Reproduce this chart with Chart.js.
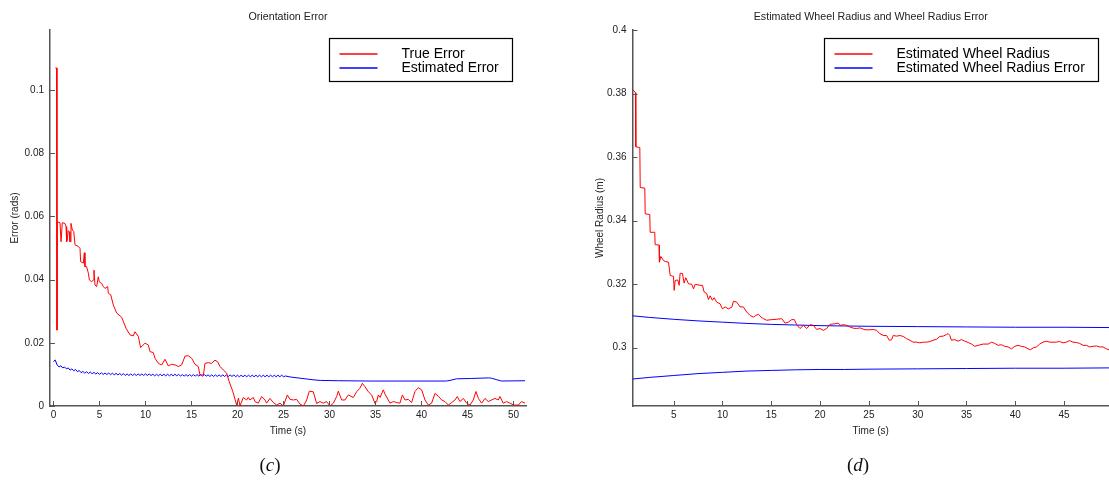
<!DOCTYPE html>
<html>
<head>
<meta charset="utf-8">
<script src="https://cdn.jsdelivr.net/npm/chart.js@4.4.1/dist/chart.umd.min.js"></script>
<style>
  html, body { margin: 0; padding: 0; background: #fff; }
  body { width: 1109px; height: 483px; overflow: hidden; position: relative; }
  canvas { position: absolute; top: 0; }
  #orientation { left: 0; }
  #radius { left: 560px; }
  .caption { position: absolute; top: 454px; width: 60px; text-align: center;
             font-family: 'Liberation Serif', 'DejaVu Serif', serif; font-size: 19px; color: #111; }
</style>
</head>
<body>
<canvas id="orientation" width="560" height="483"></canvas>
<canvas id="radius" width="549" height="483"></canvas>
<div class="caption" style="left:240px">(<i>c</i>)</div>
<div class="caption" style="left:828px">(<i>d</i>)</div>
<script>
// ---- Orientation error (rad) over time (s) ----
const trueErrT = [0.2,0.33,0.38,0.42,0.71,0.82,0.96,1.25,1.36,1.43,1.5,1.58,1.7,1.79,1.85,1.9,2.05,2.2,2.34,2.7,2.88,2.95,3.24,3.35,3.42,3.6,3.79,3.9,4.15,4.33,4.4,4.51,4.69,4.87,4.98,5.24,5.42,5.6,5.89,5.96,6.22,6.5,6.87,7.41,7.88,8.32,8.68,8.86,9.22,9.47,9.95,10.31,10.49,10.85,11.03,11.4,11.76,12.12,12.48,12.85,13.21,13.57,13.93,14.3,14.66,15.02,15.38,15.74,15.92,16.29,16.47,16.83,17.19,17.55,17.84,18.1,18.46,18.82,19.1,19.5,19.91,20.1,20.27,20.63,20.99,21.17,21.35,21.72,21.9,22.26,22.63,22.99,23.17,23.53,23.89,24.26,24.62,24.98,25.42,25.71,26.07,26.43,26.79,27.16,27.52,27.81,28.24,28.6,28.97,29.33,29.69,30.05,30.42,30.78,30.96,31.32,31.68,32.05,32.59,32.95,33.3,33.57,33.86,34.22,34.58,34.94,35.13,35.31,35.5,35.85,36.03,36.39,36.58,36.94,37.3,37.66,37.92,38.21,38.57,38.93,39.29,39.66,40.02,40.38,40.74,41.1,41.47,41.83,42.19,42.55,42.92,43.28,43.64,43.89,44.18,44.55,44.91,45.27,45.63,45.92,46.18,46.54,46.9,47.26,47.62,47.99,48.35,48.53,48.89,49.25,49.61,50.05,50.52,50.88,51.25];
const trueErrV = [0.107,0.107,0.024,0.0583,0.058,0.052,0.058,0.0578,0.0568,0.052,0.0525,0.0555,0.0552,0.052,0.052,0.0578,0.0557,0.0552,0.051,0.0505,0.0499,0.0457,0.0452,0.0485,0.0441,0.0441,0.042,0.0399,0.0393,0.0399,0.043,0.0383,0.0378,0.0409,0.0393,0.0388,0.0378,0.0372,0.0378,0.0357,0.0352,0.032,0.0294,0.0281,0.0246,0.0225,0.0222,0.0235,0.022,0.0185,0.0199,0.0193,0.0172,0.0169,0.0151,0.0135,0.013,0.0148,0.0127,0.0132,0.013,0.0125,0.013,0.0158,0.0159,0.0151,0.0132,0.0125,0.0098,0.0098,0.0135,0.0137,0.0135,0.0145,0.014,0.0125,0.0114,0.0104,0.0077,0.0045,0.0003,0.0025,0.0,0.0027,0.0019,0.0027,0.0019,0.0027,0.0014,0.0009,0.003,0.0019,0.0009,0.0024,0.0011,0.0003,0.0009,0.0,0.0035,0.0021,0.0019,0.0021,0.0006,0.0,0.0019,0.0047,0.0045,0.0008,0.0014,0.0009,0.0014,0.0,0.0009,0.003,0.0047,0.0019,0.0019,0.0035,0.0027,0.0045,0.0056,0.0072,0.0061,0.0045,0.0035,0.0008,0.0014,0.0035,0.0027,0.0051,0.0038,0.0019,0.0009,0.0014,0.0011,0.0009,0.0035,0.0019,0.0021,0.0011,0.0046,0.0058,0.0051,0.0019,0.0003,0.0009,0.004,0.0031,0.0019,0.0014,0.0003,0.0011,0.0019,0.003,0.0014,0.0024,0.0009,0.0003,0.0019,0.0046,0.0024,0.0009,0.0024,0.0014,0.0019,0.0024,0.0019,0.003,0.0009,0.0014,0.0009,0.0003,0.0003,0.0014,0.0009];
const estErrT = [0,0.18,
  0.4,0.6,0.8,1.0,1.2,1.4,1.6,1.8,2.0,2.2,2.4,2.6,2.8,3.0,3.2,3.4,3.6,3.8,4.0,4.2,4.4,4.6,4.8,5.0,
  5.2,5.4,5.6,5.8,6.0,6.2,6.4,6.6,6.8,7.0,7.2,7.4,7.6,7.8,8.0,8.2,8.4,8.6,8.8,9.0,9.2,9.4,9.6,9.8,
  10.0,10.2,10.4,10.6,10.8,11.0,11.2,11.4,11.6,11.8,12.0,12.2,12.4,12.6,12.8,13.0,13.2,13.4,13.6,13.8,
  14.0,14.2,14.4,14.6,14.8,15.0,15.2,15.4,15.6,15.8,16.0,16.2,16.4,16.6,16.8,17.0,17.2,17.4,17.6,17.8,
  18.0,18.2,18.4,18.6,18.8,19.0,19.2,19.4,19.6,19.8,20.0,20.2,20.4,20.6,20.8,21.0,21.2,21.4,21.6,21.8,
  22.0,22.2,22.4,22.6,22.8,23.0,23.2,23.4,23.6,23.8,24.0,24.2,24.4,24.6,24.8,25.0,25.2,
  25.7,26.8,28.2,29.0,31,34.4,42.7,43.1,43.8,45.3,47.3,47.6,48.2,48.7,51.25];
const estErrV = [0.014,0.0146,
  0.01295,0.01235,0.01275,0.01205,0.01235,0.01175,0.01205,0.01135,0.01175,0.01115,0.01155,0.01085,0.01125,0.01055,0.01095,0.0104,0.01085,0.0103,0.01075,0.0102,0.01065,0.0101,0.01055,0.01003,
  0.0105,0.00998,0.01045,0.00995,0.01043,0.00991,0.01039,0.00987,0.01035,0.00983,0.0103,0.00977,0.01025,0.00965,0.01015,0.00965,0.01015,0.00965,0.01015,0.00965,0.01015,0.00965,0.01015,0.00965,
  0.01015,0.00965,0.01015,0.00965,0.01005,0.00955,0.01005,0.00955,0.01005,0.00955,0.01005,0.00955,0.01005,0.00955,0.01005,0.00955,0.01005,0.00955,0.01005,0.00945,
  0.00995,0.00945,0.00995,0.00945,0.00995,0.00945,0.00995,0.00945,0.00995,0.00945,0.00995,0.00945,0.00995,0.00945,0.00985,0.00935,0.00985,0.00935,0.00985,0.00935,
  0.00985,0.00935,0.00985,0.00935,0.00985,0.00935,0.00985,0.00935,0.00985,0.00925,0.00975,0.00925,0.00975,0.00925,0.00975,0.00925,0.00975,0.00925,0.00975,0.00925,
  0.00975,0.00925,0.00975,0.00925,0.00975,0.00925,0.00975,0.00925,0.00975,0.00925,0.00975,0.00925,0.00975,0.00925,0.00975,0.00925,0.0095,
  0.0092,0.0088,0.0083,0.0081,0.008,0.0079,0.0079,0.0081,0.0086,0.0087,0.0089,0.0088,0.0083,0.0079,0.008];

// ---- Wheel radius estimate (m) and its error bounds ----
const radiusT = [0.78,1.08,1.12,1.53,1.57,2.04,2.08,2.55,2.59,3.06,3.1,3.5,3.54,3.68,3.95,4.13,4.47,4.64,4.98,5.05,5.15,5.42,5.56,5.66,5.9,6.07,6.24,6.51,6.85,7.03,7.2,7.71,7.95,8.12,8.39,8.56,8.73,8.97,9.14,9.41,9.75,9.99,10.27,10.6,10.95,11.12,11.46,11.8,12.14,12.48,12.83,13.17,13.41,13.68,13.95,14.19,14.53,15.04,15.55,16.07,16.41,16.75,17.09,17.36,17.6,17.94,18.29,18.63,18.97,19.31,19.65,19.99,20.33,20.67,21.0,21.5,21.87,22.04,22.38,22.72,23.06,23.4,23.74,24.09,24.6,25.11,25.45,25.79,26.13,26.47,26.81,27.09,27.33,27.49,27.84,28.18,28.52,28.86,29.2,29.54,29.88,30.22,30.57,30.91,31.25,31.59,31.93,32.27,32.61,32.95,33.12,33.29,33.46,33.8,34.14,34.48,34.83,35.17,35.51,35.85,36.19,36.71,37.22,37.56,37.9,38.24,38.58,38.92,39.26,39.61,39.95,40.29,40.63,40.97,41.31,41.55,41.83,42.17,42.5,42.84,43.18,43.53,43.87,44.2,44.54,44.89,45.23,45.57,45.91,46.26,46.6,46.94,47.28,47.62,47.97,48.31,48.65,48.99,49.33,49.6];
const radiusV = [0.3813,0.3803,0.3632,0.363,0.3504,0.3502,0.3421,0.3419,0.3363,0.3363,0.3324,0.3323,0.3269,0.3287,0.3274,0.3271,0.3269,0.3227,0.3224,0.318,0.3211,0.3213,0.3196,0.3234,0.3233,0.3203,0.322,0.3201,0.3199,0.3185,0.3199,0.3196,0.3196,0.3175,0.317,0.3151,0.3163,0.3149,0.3157,0.3143,0.3138,0.3122,0.3128,0.3122,0.3127,0.3146,0.3143,0.3128,0.3128,0.3112,0.3101,0.3096,0.3101,0.3105,0.3096,0.3091,0.3086,0.3088,0.3089,0.3091,0.3077,0.308,0.3088,0.3088,0.3072,0.306,0.307,0.306,0.3072,0.307,0.3057,0.306,0.3054,0.306,0.3073,0.3075,0.3077,0.307,0.3072,0.307,0.3065,0.3061,0.306,0.3062,0.3056,0.3056,0.3057,0.3054,0.3044,0.3038,0.3038,0.3023,0.3025,0.3038,0.3036,0.3038,0.3035,0.3028,0.3023,0.3017,0.3017,0.3015,0.3017,0.3017,0.3019,0.3023,0.3026,0.3035,0.3036,0.3041,0.3044,0.3038,0.3023,0.3025,0.302,0.3025,0.302,0.3016,0.3011,0.3004,0.3007,0.3011,0.3011,0.3017,0.3013,0.3007,0.3009,0.3004,0.3002,0.2996,0.3004,0.3007,0.3004,0.3002,0.2996,0.2993,0.2999,0.3002,0.3011,0.3017,0.302,0.3017,0.3017,0.3017,0.3019,0.3015,0.3017,0.3022,0.3017,0.3016,0.3013,0.3007,0.3007,0.3002,0.3004,0.3005,0.3002,0.3002,0.2996,0.2993];
const boundT = [0.78,2.5,5,7.5,10,12.5,15,17.5,20,22.5,25,30,35,40,45,49.6];
const upperV = [0.31,0.3095,0.3089,0.3084,0.308,0.3076,0.3073,0.3071,0.3069,0.3068,0.3067,0.3066,0.3065,0.3064,0.3064,0.3063];
const lowerV = [0.2901,0.2906,0.2912,0.2918,0.2922,0.2926,0.2928,0.293,0.2931,0.2931,0.2932,0.2933,0.2934,0.2935,0.2935,0.2936];

// ---- Tick values and labels ----
const timeTicksA = [0,5,10,15,20,25,30,35,40,45,50];
const timeTicksB = [5,10,15,20,25,30,35,40,45];
const errTicks = [0,0.02,0.04,0.06,0.08,0.1];
const errTickLabels = ['0','0.02','0.04','0.06','0.08','0.1'];
const radTicks = [0.3,0.32,0.34,0.36,0.38,0.4];
const radTickLabels = ['0.3','0.32','0.34','0.36','0.38','0.4'];

const RED = '#ff0000', BLUE = '#0000ff', AXIS = '#555', TEXT = '#222';
Chart.defaults.font.family = "'Liberation Sans', Arial, Helvetica, sans-serif";
Chart.defaults.color = TEXT;

const zip = (t, v) => t.map((x, i) => ({ x, y: v[i] }));

// short tick marks pointing into the plot area
const inwardTicks = {
  id: 'inwardTicks',
  afterDraw(chart) {
    const { ctx, chartArea: a, scales: { x, y } } = chart;
    ctx.save();
    ctx.strokeStyle = AXIS;
    ctx.lineWidth = 1;
    ctx.beginPath();
    x.ticks.forEach(t => {
      const p = Math.round(x.getPixelForValue(t.value)) + 0.5;
      ctx.moveTo(p, a.bottom); ctx.lineTo(p, a.bottom - 5);
    });
    y.ticks.forEach(t => {
      const p = Math.round(y.getPixelForValue(t.value)) + 0.5;
      ctx.moveTo(a.left, p); ctx.lineTo(a.left + 5, p);
    });
    ctx.stroke();
    ctx.restore();
  }
};

// boxed legend in the upper right corner of the plot area
const boxLegend = {
  id: 'boxLegend',
  afterDraw(chart, args, opts) {
    const { ctx, chartArea: a } = chart;
    const items = chart.data.datasets.filter(d => d.inLegend !== false);
    ctx.save();
    ctx.font = "14px 'Liberation Sans', Arial, sans-serif";
    const tw = Math.max(...items.map(d => ctx.measureText(d.label).width));
    const w = Math.round(72 + tw + 14), h = 43;
    const bx = Math.round(a.right - opts.right - w) + 0.5, by = Math.round(a.top + opts.top) + 0.5;
    ctx.fillStyle = '#fff';
    ctx.fillRect(bx, by, w, h);
    ctx.strokeStyle = '#000';
    ctx.lineWidth = 1.2;
    ctx.strokeRect(bx, by, w, h);
    items.forEach((d, i) => {
      const cy = Math.round(by + 15 + i * 14.5);
      ctx.beginPath();
      ctx.strokeStyle = d.borderColor;
      ctx.lineWidth = 1.6;
      ctx.moveTo(bx + 10, cy); ctx.lineTo(bx + 48, cy);
      ctx.stroke();
      ctx.fillStyle = '#000';
      ctx.textBaseline = 'middle';
      ctx.fillText(d.label, bx + 72, cy);
    });
    ctx.restore();
  }
};

function lineSet(label, data, color, inLegend) {
  return { label, data, borderColor: color, borderWidth: 1, pointRadius: 0,
           tension: 0, fill: false, inLegend };
}

function makeChart(id, cfg) {
  return new Chart(document.getElementById(id), {
    type: 'line',
    data: { datasets: cfg.datasets },
    plugins: [inwardTicks, boxLegend],
    options: {
      responsive: false,
      animation: false,
      parsing: false,
      layout: { padding: { left: 0, right: cfg.padRight, top: 0, bottom: 37 } },
      plugins: {
        legend: { display: false },
        tooltip: { enabled: false },
        title: {
          display: true, text: cfg.title, fullSize: false,
          font: { size: 10.7, weight: 'normal', lineHeight: 1.2 },
          color: TEXT, padding: { top: 11.1, bottom: 6.06 }
        },
        boxLegend: { right: cfg.legendRight, top: 8 }
      },
      scales: {
        x: {
          type: 'linear', min: cfg.xMin, max: cfg.xMax,
          afterBuildTicks: s => { s.ticks = cfg.xTicks.map(value => ({ value })); },
          afterFit: s => { s.height = 40; },
          grid: { display: false, drawTicks: false },
          border: { display: true, color: AXIS, width: 1.5 },
          ticks: { font: { size: 10 }, padding: 3, maxRotation: 0, color: TEXT,
                   callback: v => String(v) },
          title: { display: true, text: 'Time (s)', font: { size: 10 }, color: TEXT,
                   padding: { top: 0, bottom: 9 } }
        },
        y: {
          type: 'linear', min: cfg.yMin, max: cfg.yMax,
          afterBuildTicks: s => { s.ticks = cfg.yTicks.map(value => ({ value })); },
          afterFit: s => { s.width = cfg.yWidth; },
          grid: { display: false, drawTicks: false },
          border: { display: true, color: AXIS, width: 1.5 },
          ticks: { font: { size: 10 }, padding: 6, color: TEXT,
                   callback: (v, i) => cfg.yLabels[i] },
          title: { display: true, text: cfg.yTitle, font: { size: 10 }, color: TEXT,
                   padding: { top: cfg.yTitlePad, bottom: 0 } }
        }
      }
    }
  });
}

makeChart('orientation', {
  title: 'Orientation Error',
  yTitle: 'Error (rads)',
  datasets: [
    lineSet('True Error', zip(trueErrT, trueErrV), RED),
    lineSet('Estimated Error', zip(estErrT, estErrV), BLUE)
  ],
  xMin: -0.38, xMax: 51.36, yMin: 0, yMax: 0.119,
  xTicks: timeTicksA, yTicks: errTicks, yLabels: errTickLabels,
  yWidth: 50, yTitlePad: 9, padRight: 34, legendRight: 14
});

makeChart('radius', {
  title: 'Estimated Wheel Radius and Wheel Radius Error',
  yTitle: 'Wheel Radius (m)',
  datasets: [
    lineSet('Estimated Wheel Radius', zip(radiusT, radiusV), RED),
    lineSet('Estimated Wheel Radius Error', zip(boundT, upperV), BLUE),
    lineSet('Estimated Wheel Radius Error', zip(boundT, lowerV), BLUE, false)
  ],
  xMin: 0.78, xMax: 49.6, yMin: 0.2816, yMax: 0.4,
  xTicks: timeTicksB, yTicks: radTicks, yLabels: radTickLabels,
  yWidth: 72.5, yTitlePad: 34, padRight: 0, legendRight: 11
});
</script>
</body>
</html>
